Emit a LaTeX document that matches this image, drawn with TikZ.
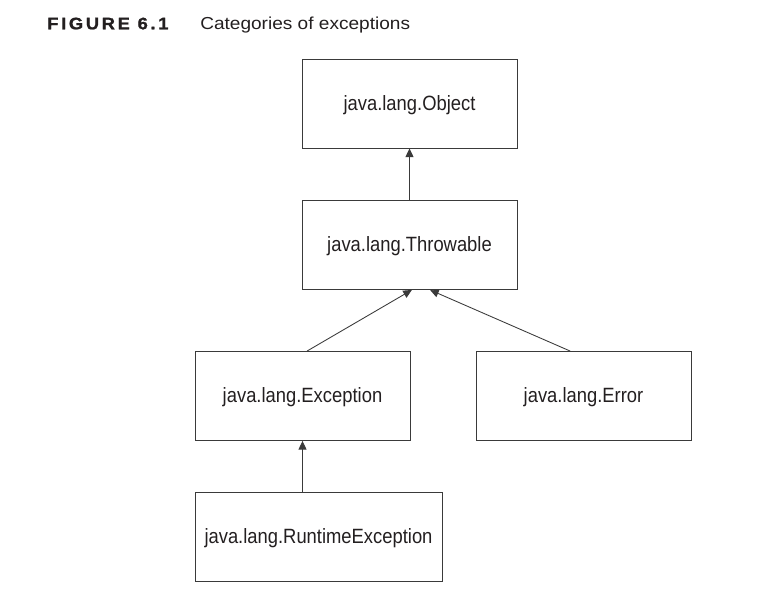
\documentclass[tikz,border=0pt]{standalone}
\usepackage{fontspec}
\usepackage{tikz}
\usepackage{xcolor}
\usetikzlibrary{positioning, arrows.meta}
\setmainfont{Liberation Sans}
\newfontfamily\boxfont[FakeStretch=0.89]{Liberation Sans}
\newfontfamily\capfont[FakeStretch=1.1]{Liberation Sans}
\definecolor{inkgray}{HTML}{231F20}
\definecolor{linegray}{HTML}{3A3A3A}
\tikzset{
  classbox/.style={draw=linegray, line width=0.65pt, inner sep=0pt, minimum width=161.25pt,
    minimum height=66.75pt, text height=11.3pt, text depth=1.5pt, text=inkgray,
    font=\boxfont\fontsize{15.5pt}{18pt}\selectfont},
  inherits/.style={-{Triangle[length=6.5pt,width=6pt]}, draw=linegray, line width=0.65pt}
}
\begin{document}
\begin{tikzpicture}[x=0.75pt,y=0.75pt]
\useasboundingbox (0,0) rectangle (766,610);
% caption line
\node[anchor=base west, inner sep=0pt, text=inkgray, font=\capfont\bfseries\fontsize{12.5pt}{15pt}\selectfont\addfontfeature{LetterSpace=16,FakeBold=1.2}] (fignum) at (47,580.7) {FIGURE 6.1};
\node[anchor=base west, inner sep=0pt, text=inkgray, font=\capfont\fontsize{13pt}{15pt}\selectfont] (figcap) at (200,580.7) {Categories of exceptions};
% the class boxes
\node[classbox] (obj) at (409.5,506.5) {java.lang.Object};
\node[classbox] (thr) at (409.5,365) {java.lang.Throwable};
\node[classbox] (exc) at (302.5,214) {java.lang.Exception};
\node[classbox] (err) at (583.5,214) {java.lang.Error};
\node[classbox, minimum width=185.25pt] (rte) at (318.5,73.5) {java.lang.RuntimeException};
% arrows up to the parent
\draw[inherits] (thr) -- (obj);
\draw[inherits] ([xshift=3.4pt]exc.north) -- ([xshift=1.8pt]thr.south);
\draw[inherits] ([xshift=-10pt]err.north) -- ([xshift=15.4pt]thr.south);
\draw[inherits] (rte.north -| exc.south) -- (exc.south);
\end{tikzpicture}
\end{document}
